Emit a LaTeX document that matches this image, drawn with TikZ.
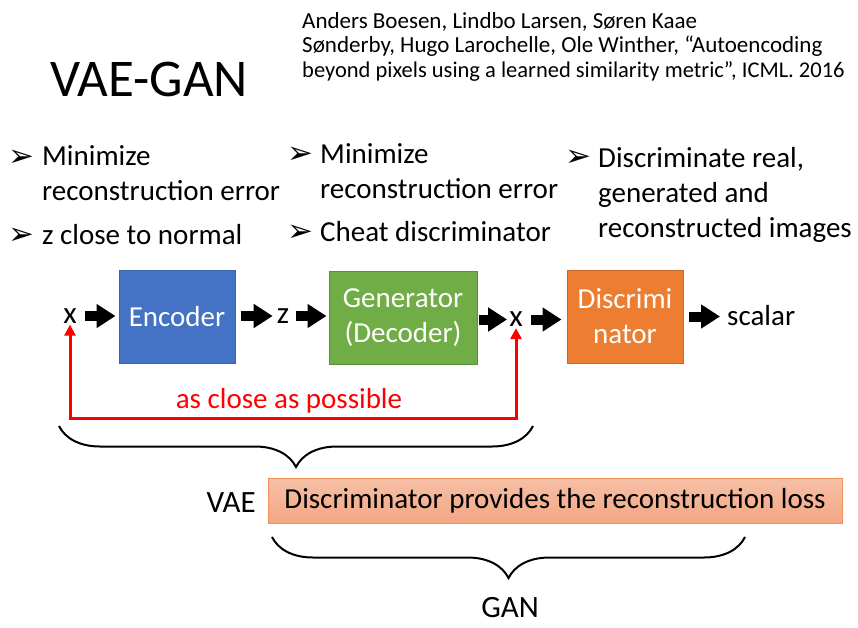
\documentclass[tikz,border=0pt]{standalone}
\usepackage{fontspec}
\setmainfont{Carlito}
\newfontfamily\djv{DejaVu Sans}
\usetikzlibrary{arrows.meta,decorations.pathreplacing}
\definecolor{encblue}{HTML}{4472C4}
\definecolor{encedge}{HTML}{3A62AA}
\definecolor{gengreen}{HTML}{70AD47}
\definecolor{genedge}{HTML}{5B8E3A}
\definecolor{disorange}{HTML}{ED7D31}
\definecolor{disedge}{HTML}{C8692A}
\definecolor{pinktop}{HTML}{F6C0A6}
\definecolor{pinkbot}{HTML}{F3A684}
\definecolor{pinkedge}{HTML}{F0905A}
\definecolor{redline}{HTML}{FF0000}
\newcommand\bulsym{{\djv\fontsize{31}{31}\selectfont ➢}}
\begin{document}
\begin{tikzpicture}[x=1pt,y=1pt,
  txt/.style={inner sep=0pt, font=\fontsize{29}{35}\selectfont},
  bigtxt/.style={inner sep=0pt, font=\fontsize{31}{35}\selectfont},
  cite/.style={inner sep=0pt, font=\fontsize{23}{24.5}\selectfont, align=left},
  bul/.style={inner sep=0pt, anchor=base west},
  blockbox/.style={draw, line width=1pt, text=white, minimum height=93pt, inner sep=0pt,
                   font=\fontsize{29}{35}\selectfont, align=center},
  blk/.style={line width=10pt, -{Triangle[length=19pt,width=23pt]}},
  redarr/.style={draw=redline, line width=3pt, {Triangle[length=11pt,width=11pt]}-{Triangle[length=11pt,width=11pt]}},
  brc/.style={decorate, decoration={brace, amplitude=41pt}, line width=2pt},
]
\useasboundingbox (0,0) rectangle (858,-627);

% title and citation
\node[inner sep=0pt, anchor=base west, font=\fontsize{53}{53}\selectfont] (title) at (50,-96) {VAE-GAN};
\node[cite, anchor=base west] (cite1) at (302,-28) {Anders Boesen, Lindbo Larsen, Søren Kaae};
\node[cite, anchor=base west] (cite2) at (302,-52.5) {Sønderby, Hugo Larochelle, Ole Winther, “Autoencoding};
\node[cite, anchor=base west, font=\fontsize{22.5}{24.5}\selectfont] (cite3) at (302,-77) {beyond pixels using a learned similarity metric”, ICML. 2016};

% bullets column 1
\node[bul] (b1) at (8,-166) {\bulsym};
\node[txt, anchor=base west, align=left] (t1) at (42,-200) {Minimize\\reconstruction error};
\node[bul] (b2) at (8,-244) {\bulsym};
\node[txt, anchor=base west] (t2) at (42,-244) {z close to normal};
% bullets column 2
\node[bul] (b3) at (287,-163) {\bulsym};
\node[txt, anchor=base west, align=left] (t3) at (320,-198) {Minimize\\reconstruction error};
\node[bul] (b4) at (287,-241) {\bulsym};
\node[txt, anchor=base west] (t4) at (320,-241) {Cheat discriminator};
% bullets column 3
\node[bul] (b5) at (565,-166) {\bulsym};
\node[txt, anchor=base west, align=left] (t5) at (598,-237) {Discriminate real,\\generated and\\reconstructed images};

% pipeline
\node[bigtxt] (x1) at (70,-316) {x};
\node[blockbox, fill=encblue, draw=encedge, minimum width=116pt] (enc) at (177,-316.5) {Encoder};
\node[bigtxt] (z) at (283,-316) {z};
\node[blockbox, fill=gengreen, draw=genedge, minimum width=148pt] (gen) at (403,-317.5) {Generator\\(Decoder)};
\node[bigtxt] (x2) at (516,-319.5) {x};
\node[blockbox, fill=disorange, draw=disedge, minimum width=116pt] (dis) at (625,-316.5) {Discrimi\\nator};
\node[txt, anchor=base west] (scalar) at (727,-325) {scalar};

\draw[blk, shorten <=8pt, shorten >=3pt] (x1) -- (enc.west |- x1);
\draw[blk, shorten <=5pt, shorten >=4pt] (enc.east |- z) -- (z);
\draw[blk, shorten <=7pt, shorten >=2pt] (z) -- (gen.west |- z);
\draw[blk, shorten <=1pt, shorten >=2pt] (gen.east |- x2) -- (x2);
\draw[blk, shorten <=8pt, shorten >=5pt] (x2) -- (dis.west |- x2);
\draw[blk, shorten <=5pt, shorten >=7pt] (dis.east) -- (scalar.west |- dis.east);

% red feedback
\draw[redarr, shorten <=1pt, shorten >=1pt] (x1.south) -- ++(0,-95) -| (x2.south);
\node[txt, text=redline, anchor=base] (close) at (289,-408) {as close as possible};

% braces
\draw[brc] (533,-426) -- (59,-426);
\node[bigtxt, anchor=base east] (vae) at (256,-512) {VAE};
\node[draw=pinkedge, line width=0.8pt, top color=pinktop, bottom color=pinkbot,
      minimum width=574pt, minimum height=45pt, inner sep=0pt,
      font=\fontsize{29}{35}\selectfont] (loss) at (555,-500.5) {Discriminator provides the reconstruction loss};
\draw[brc] (745,-537) -- (272,-537);
\node[bigtxt, anchor=base] (gan) at (510,-617) {GAN};
\end{tikzpicture}
\end{document}
